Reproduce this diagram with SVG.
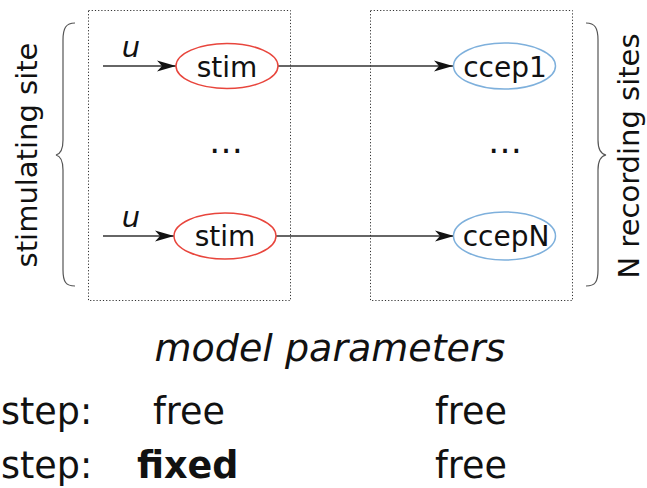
<svg xmlns="http://www.w3.org/2000/svg" width="647" height="488" viewBox="0 0 647 488">
<defs>
<style>
text{font-family:"DejaVu Sans","Verdana",sans-serif;fill:#111;}
.lbl{font-size:28px;text-anchor:middle;}
.dots{font-size:34px;text-anchor:middle;}
.side{font-size:29px;text-anchor:middle;}
.row{font-size:36.5px;}
.box{fill:none;stroke:#333;stroke-width:1;stroke-dasharray:1.2,2;}
.brace{fill:none;stroke:#555;stroke-width:1.2;}
.stim{fill:#fff;stroke:#e8453c;stroke-width:1.5;}
.ccep{fill:#fff;stroke:#7eb0dc;stroke-width:1.5;}
.edge{fill:none;stroke:#333;stroke-width:1.3;marker-end:url(#ah);}
</style>
<marker id="ah" markerUnits="userSpaceOnUse" markerWidth="20" markerHeight="12" refX="19" refY="6" orient="auto">
<path d="M0,0.5 L19,6 L0,11.5 L5,6 Z" fill="#111"/>
</marker>
</defs>
<rect width="647" height="488" fill="#fff"/>
<rect class="box" x="88.5" y="10.5" width="202" height="290"/>
<rect class="box" x="370.5" y="10.5" width="202" height="290"/>
<path class="brace" d="M75,23 C66,23 63,28 63,40 L63,140 C63,150 60,154 56,155 C60,156 63,160 63,170 L63,270 C63,282 66,286 75,286"/>
<path class="brace" d="M586,23 C595,23 598,28 598,40 L598,140 C598,150 601,154 606,155 C601,156 598,160 598,170 L598,270 C598,282 595,286 586,286"/>
<text class="side" transform="translate(37,155) rotate(-90)">stimulating site</text>
<text class="side" transform="translate(639,156) rotate(-90)">N recording sites</text>
<g id="connectors">
<line class="edge" x1="103" y1="66" x2="176" y2="66"/>
<line class="edge" x1="103" y1="236" x2="174" y2="236"/>
<line class="edge" x1="278" y1="66" x2="453" y2="66"/>
<line class="edge" x1="276" y1="236" x2="454" y2="236"/>
<text x="131" y="57" font-size="29" font-style="italic" text-anchor="middle">u</text>
<text x="131" y="227" font-size="29" font-style="italic" text-anchor="middle">u</text>
</g>
<g id="stim1"><ellipse class="stim" cx="227" cy="66" rx="51" ry="22.5"/><text class="lbl" x="227" y="77">stim</text></g>
<g id="stim2"><ellipse class="stim" cx="225" cy="236" rx="51" ry="23"/><text class="lbl" x="225" y="246">stim</text></g>
<g id="ccep1"><ellipse class="ccep" cx="504.5" cy="66" rx="51" ry="23"/><text class="lbl" x="505" y="77">ccep1</text></g>
<g id="ccepN"><ellipse class="ccep" cx="504.5" cy="236" rx="51" ry="24"/><text class="lbl" x="506" y="246">ccepN</text></g>
<text class="dots" x="226" y="153">…</text>
<text class="dots" x="505" y="153">…</text>
<text x="330" y="361" font-size="38" font-style="italic" text-anchor="middle">model parameters</text>
<text class="row" x="1" y="424">step:</text>
<text class="row" x="153" y="424">free</text>
<text class="row" x="435" y="424">free</text>
<text class="row" x="1" y="478">step:</text>
<text class="row" x="137" y="478" font-weight="bold">fixed</text>
<text class="row" x="435" y="478">free</text>
</svg>
